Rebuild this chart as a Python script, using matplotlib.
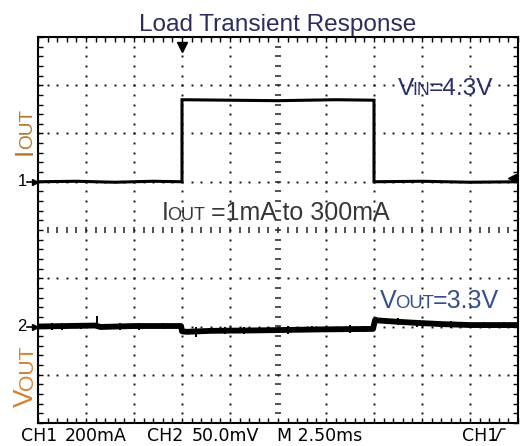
"""
Load transient response, redrawn as an oscilloscope screen
"""

import numpy as np
import matplotlib
matplotlib.use('Agg')
import matplotlib.pyplot as plt
from matplotlib.lines import Line2D
from matplotlib.transforms import IdentityTransform
from matplotlib.ticker import MultipleLocator

# screen is 10 x 8 divisions, y measured in divisions from the centre line
# CH1 - output current step
iout_t = [0.0, 0.8, 1.6, 2.4, 3.0, 3.0, 4.0, 5.0, 6.2, 7.0, 7.0, 8.0, 9.0, 10.0]
iout_v = [1.0, 1.01, 0.99, 1.01, 1.0, 2.70, 2.69, 2.68, 2.70, 2.69, 1.0, 1.01, 0.99, 1.0]

# CH2 - output voltage (centre of the noise band)
vout_t = [0.0, 0.6, 1.2, 1.3, 2.0, 2.98, 3.0, 3.1, 3.6, 4.6, 5.9, 6.98,
          7.02, 7.3, 7.8, 8.4, 9.0, 10.0]
vout_v = [-2.0, -1.99, -1.98, -2.01, -1.99, -1.99, -2.10, -2.11, -2.09, -2.08,
          -2.06, -2.05, -1.87, -1.89, -1.92, -1.95, -1.97, -1.97]

# short glitches sticking out of the band
spike_t = [0.3, 0.5, 0.9, 1.23, 1.7, 2.1, 2.6, 3.02, 3.3, 3.9, 4.3, 4.8, 5.2,
           5.7, 6.5, 6.8, 7.04, 7.5, 7.9, 8.6, 9.3, 9.7]
spike_lo = [-2.07, -2.08, -2.06, -2.04, -2.07, -2.08, -2.06, -2.14, -2.22, -2.15,
            -2.16, -2.14, -2.15, -2.12, -2.13, -2.12, -1.95, -1.97, -2.0, -2.03, -2.04, -2.03]
spike_hi = [-1.93, -1.92, -1.94, -1.78, -1.92, -1.92, -1.93, -2.05, -2.02, -2.0,
            -2.0, -2.01, -1.98, -1.99, -1.97, -1.98, -1.8, -1.83, -1.86, -1.89, -1.9, -1.9]

title = 'Load Transient Response'
bottom_labels = ['CH1', '200mA', 'CH2', '50.0mV', 'M 2.50ms', 'CH1']


def caps_text(fig, x, y, pieces, size, color, rotation=0):
    """
    Writes text made of pieces of different size (fake small caps),
    x / y are output pixels of the baseline start
    """
    renderer = fig.canvas.get_renderer()
    pos = 0.0
    for s, scale in pieces:
        if rotation == 0:
            xy = (x + pos, y)
        else:
            xy = (x, y + pos)
        t = fig.text(xy[0], xy[1], s, transform=IdentityTransform(),
                     fontsize=size * scale, color=color, rotation=rotation,
                     rotation_mode='anchor', ha='left', va='baseline',
                     family=['Liberation Sans', 'DejaVu Sans'])
        ext = t.get_window_extent(renderer)
        pos += (ext.width if rotation == 0 else ext.height) - 1.5


fig = plt.figure(figsize=(5.22, 4.46), dpi=100)
ax = fig.add_axes([38 / 522, 1 - 423 / 446, 480 / 522, 386 / 446])
ax.set_xlim(0, 10)
ax.set_ylim(-4, 4)

# border and its small ticks
for sp in ax.spines.values():
    sp.set_linewidth(1.5)
ax.xaxis.set_major_locator(MultipleLocator(1))
ax.yaxis.set_major_locator(MultipleLocator(1))
ax.xaxis.set_minor_locator(MultipleLocator(0.2))
ax.yaxis.set_minor_locator(MultipleLocator(0.2))
ax.tick_params(which='both', direction='in', length=3.5, width=1.0,
               top=True, right=True, labelbottom=False, labelleft=False)

# dotted grid
sub_x = np.arange(0, 10.01, 0.2)
sub_y = np.arange(-4, 4.01, 0.2)
for gx in range(1, 10):
    if gx != 5:
        ax.plot([gx] * len(sub_y), sub_y, ls='none', marker='s', ms=1.4,
                mew=0, color='#111111')
for gy in range(-3, 4):
    if gy != 0:
        ax.plot(sub_x, [gy] * len(sub_x), ls='none', marker='s', ms=1.4,
                mew=0, color='#111111')

# centre axes with little ticks
ax.plot([5] * len(sub_y), sub_y, ls='none', marker='_', ms=4.5, mew=1.1, color='#222222')
ax.plot(sub_x, [0] * len(sub_x), ls='none', marker='|', ms=4.5, mew=1.1, color='#222222')

# traces
ax.plot(iout_t, iout_v, color='black', lw=2.2, solid_joinstyle='miter')
ax.plot(vout_t, vout_v, color='black', lw=4.2, solid_capstyle='butt')
ax.vlines(spike_t, spike_lo, spike_hi, color='black', lw=1.4)

# trigger markers
ax.plot([3.0], [3.8], marker='v', ms=7, color='black', clip_on=False)
ax.plot([9.88], [1.07], marker='<', ms=6, color='black', clip_on=False)

# channel ground markers on the left
for lvl, lab in [(1.0, '1'), (-2.0, '2')]:
    ax.plot([-0.22, 0], [lvl, lvl], color='black', lw=1.2, clip_on=False)
    ax.plot([-0.06], [lvl], marker='>', ms=5, color='black', clip_on=False)
    ax.text(-0.23, lvl, lab, ha='right', va='center', fontsize=12,
            family=['Liberation Sans', 'DejaVu Sans'])

# texts
fig.text(278, 415, title, transform=IdentityTransform(), ha='center',
         va='baseline', fontsize=17.6, color='#2b2d5e',
         family=['Liberation Sans', 'DejaVu Sans'])
caps_text(fig, 398, 351, [('V', 1.0), ('IN', 0.72), ('=4.3V', 1.0)], 17.6, '#2a2f6a')
caps_text(fig, 162, 226, [('I', 1.0), ('OUT', 0.72), (' =1mA to 300mA', 1.0)], 18, '#363636')
caps_text(fig, 380, 138, [('V', 1.0), ('OUT', 0.74), ('=3.3V', 1.0)], 18, '#33508a')
caps_text(fig, 32, 291, [('I', 1.0), ('OUT', 0.72)], 19, '#b8762e', rotation=90)
caps_text(fig, 33, 39, [('V', 1.0), ('OUT', 0.76)], 20, '#d9812e', rotation=90)

# scope settings along the bottom
for xp, s in zip([21, 65, 147, 192, 277, 462], bottom_labels):
    fig.text(xp, 5, s, transform=IdentityTransform(), ha='left', va='baseline',
             fontsize=12.5, family=['Liberation Sans Narrow', 'DejaVu Sans'])
fig.add_artist(Line2D([492, 496, 501, 505], [6, 6, 17, 17], color='black', lw=1.0,
                      transform=IdentityTransform()))

fig.savefig('out.png', dpi=100)
